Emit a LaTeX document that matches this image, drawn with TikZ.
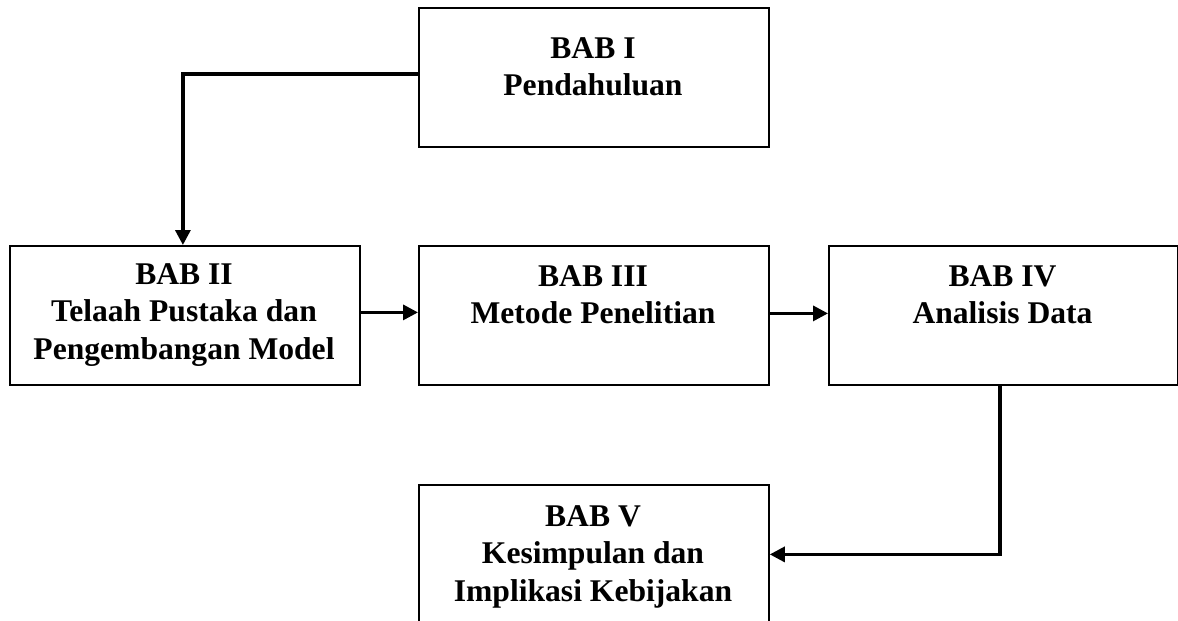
\documentclass[tikz,border=0pt]{standalone}
\usepackage{fontspec}
\setmainfont{Liberation Serif}
\usetikzlibrary{arrows.meta}
\begin{document}
\begin{tikzpicture}[x=1pt,y=-1pt,
  chapter/.style={draw=black, line width=1.8pt, minimum width=350pt,
    minimum height=139pt, inner sep=0pt, anchor=north west},
  caption/.style={align=center, inner sep=0pt, anchor=north,
    font=\bfseries\fontsize{31.6}{37.5}\selectfont},
  flow/.style={line width=3.3pt, -{Triangle[length=15pt,width=15pt]}}]
  \clip (0,0) rectangle (1178,621);
  \fill[white] (0,0) rectangle (1178,621);

  % chapter boxes
  \node[chapter] (b1) at (418,7) {};
  \node[chapter] (b2) at (9,245) {};
  \node[chapter] (b3) at (418,245) {};
  \node[chapter, minimum width=349pt] (b4) at (828,245) {};
  \node[chapter] (b5) at (418,484) {};

  % chapter titles
  \node[caption] (t1) at (593,37) {BAB I\\Pendahuluan};
  \node[caption] (t2) at (184,263) {BAB II\\Telaah Pustaka dan\\Pengembangan Model};
  \node[caption] (t3) at (593,265) {BAB III\\Metode Penelitian};
  \node[caption] (t4) at (1002.5,265) {BAB IV\\Analisis Data};
  \node[caption] (t5) at (593,505) {BAB V\\Kesimpulan dan\\Implikasi Kebijakan};

  % connectors
  \draw[flow] ([yshift=3.5pt]b1.west) -| ([xshift=-2pt]b2.north);
  \draw[flow] ([yshift=3pt]b2.east) -- ([yshift=3pt]b3.west);
  \draw[flow] ([yshift=2pt]b3.east) -- ([yshift=2pt]b4.west);
  \draw[flow] ([xshift=-3.5pt]b4.south) |- (b5.east);
\end{tikzpicture}
\end{document}
